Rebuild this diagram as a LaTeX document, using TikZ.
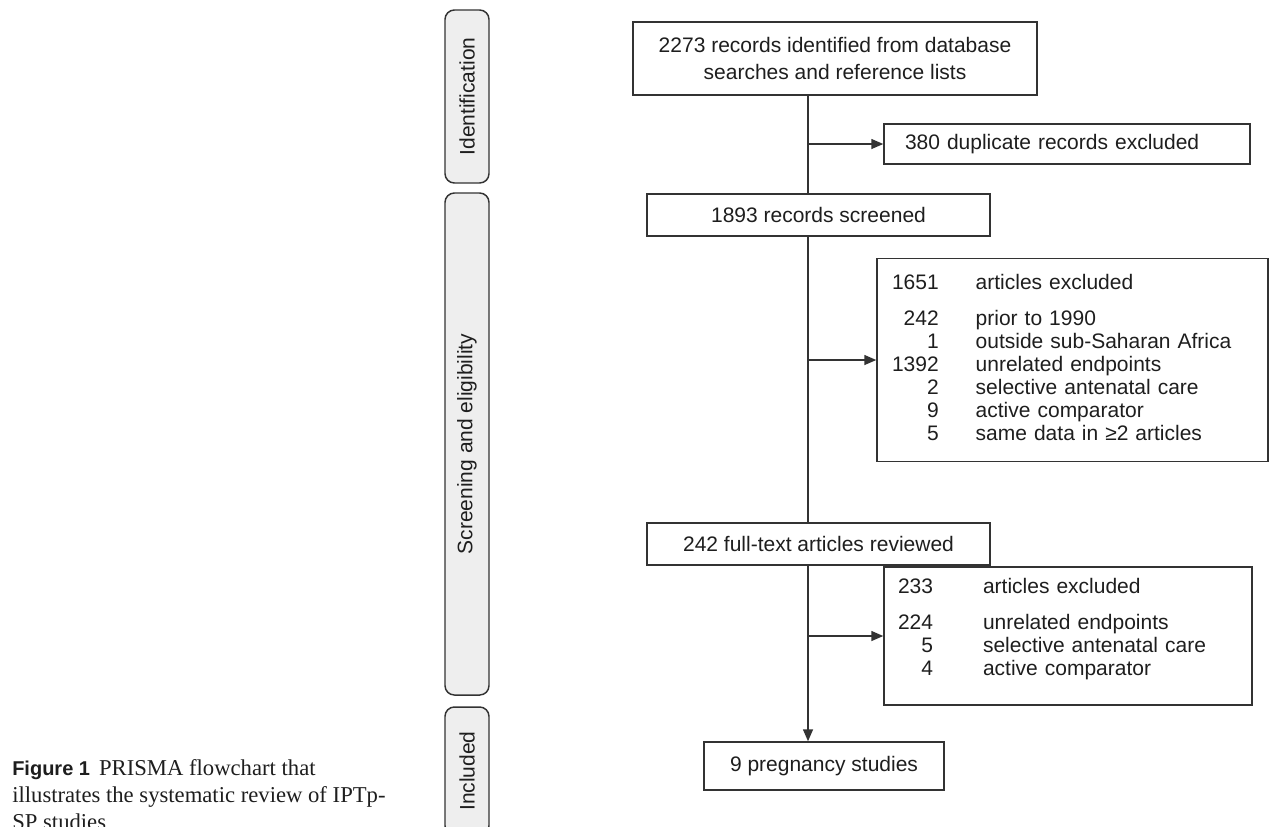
\documentclass[tikz,border=0pt]{standalone}
\usepackage{fontspec}
\setmainfont{Liberation Serif}
\newfontfamily\boxfont{Liberation Sans}
\usepackage{xcolor}
\usepackage{tikz}
\usetikzlibrary{arrows.meta,positioning}

\definecolor{linegray}{HTML}{333333}
\definecolor{bandgray}{HTML}{EEEEEE}
\definecolor{textgray}{HTML}{1E1E1E}
\newlength\px \setlength\px{0.75pt}

\begin{document}
\begin{tikzpicture}[x=0.75pt, y=-0.75pt,
  box/.style={draw=linegray, line width=1.1pt, inner sep=0pt, text=textgray, font={\boxfont\fontsize{15.75pt}{17.25pt}\selectfont}},
  stage/.style={draw=linegray, line width=1.1pt, fill=bandgray, rounded corners=7pt, minimum width=44\px, inner sep=0pt, text=textgray, font={\boxfont\fontsize{15.75pt}{17.25pt}\selectfont}},
  flow/.style={draw=linegray, line width=1.1pt},
  >={Triangle[length=9pt,width=7.5pt]}]
\useasboundingbox (0,0) rectangle (1269,826);
\clip (0,0) rectangle (1269,826);
% stages
\node[stage, minimum height=173\px] (idf) at (467,96.5) {\rotatebox{90}{Identification}};
\node[stage, minimum height=502\px] (scr) at (467,444) {\rotatebox{90}{Screening and eligibility}};
\node[stage, minimum height=128\px] (inc) at (467,771) {\rotatebox{90}{Included}};
% flow boxes
\coordinate (spine) at (808,0);
\node[box, minimum width=404\px, minimum height=73\px, align=center, font={\boxfont\fontsize{15.75pt}{20.5pt}\selectfont}] (found) at (835,58.5) {2273 records identified from database\\searches and reference lists};
\node[box, minimum height=40\px, text width=324\px, inner xsep=21\px, align=left] (dupl) at (1067,144) {380 duplicate records excluded};
\node[box, minimum width=343\px, minimum height=42\px] (screen) at (818.5,215) {1893 records screened};
\node[box, minimum height=203\px, text width=361\px, inner xsep=15\px, align=left] (excl1) at (1072.5,360) {%
\begin{tabular}{@{}r@{\hspace{37\px}}l@{}}
1651 & articles excluded\\[9.75pt]
242 & prior to 1990\\
1 & outside sub-Saharan Africa\\
1392 & unrelated endpoints\\
2 & selective antenatal care\\
9 & active comparator\\
5 & same data in ≥2 articles
\end{tabular}};
\node[box, minimum width=343\px, minimum height=42\px] (full) at (818.5,544) {242 full-text articles reviewed};
\node[box, minimum height=138\px, text width=340\px, inner xsep=14\px, align=left] (excl2) at (1068,636) {%
\begin{tabular}{@{}r@{\hspace{50\px}}l@{}}
233 & articles excluded\\[9.75pt]
224 & unrelated endpoints\\
5 & selective antenatal care\\
4 & active comparator\\[9pt]
\end{tabular}};
\node[box, minimum width=240\px, minimum height=48\px] (incl) at (824,766) {9 pregnancy studies};
% caption (base = last line)
\node[anchor=base west, align=left, inner sep=0pt, text=textgray, font=\fontsize{17pt}{20.25pt}\selectfont] (cap) at (12,829) {{\boxfont\fontsize{15pt}{20.25pt}\selectfont\bfseries Figure 1}\hspace{9\px}PRISMA flowchart that\\illustrates the systematic review of IPTp-\\SP studies};
% connectors
\draw[flow] (found.south -| spine) -- (screen.north -| spine); \draw[flow] (screen.south -| spine) -- (full.north -| spine);
\draw[flow,->] (full.south -| spine) -- (incl.north -| spine);
\draw[flow,->] (spine |- dupl.west) -- (dupl.west); \draw[flow,->] (spine |- excl1.west) -- (excl1.west); \draw[flow,->] (spine |- excl2.west) -- (excl2.west);
\end{tikzpicture}
\end{document}
